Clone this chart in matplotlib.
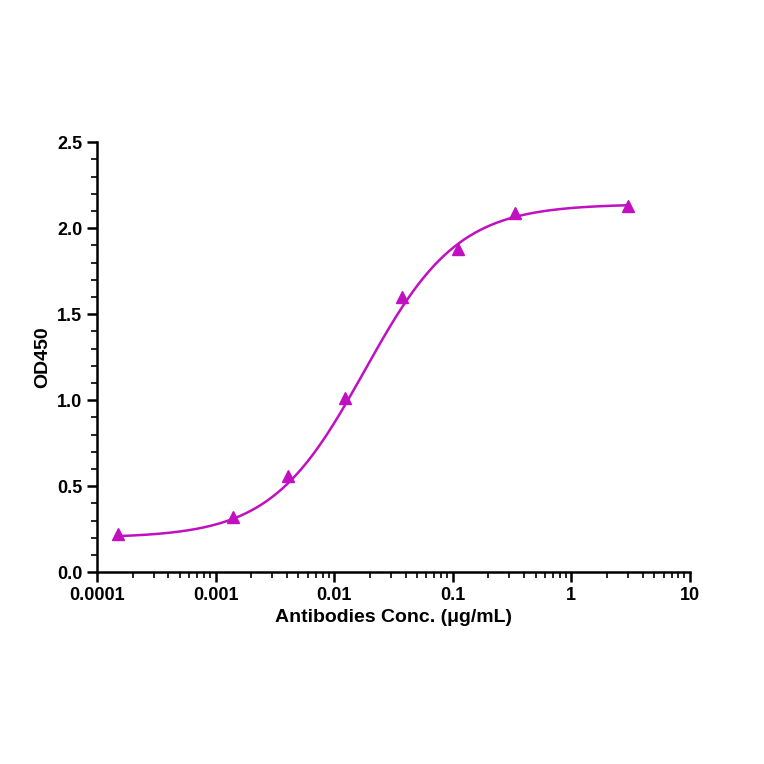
import numpy as np
import matplotlib.pyplot as plt
from matplotlib.ticker import LogLocator, NullFormatter, MultipleLocator

plt.rcParams['font.family'] = ['Liberation Sans', 'DejaVu Sans']
plt.rcParams['font.weight'] = 'bold'

# measured points
conc = [0.00015, 0.0014, 0.0041, 0.0123, 0.037, 0.111, 0.333, 3.0]
od450 = [0.22, 0.32, 0.56, 1.01, 1.60, 1.88, 2.09, 2.13]

# 4PL fit parameters
fit_bottom = 0.20
fit_top = 2.14
fit_ec50 = 0.018
fit_hill = 1.1

color = '#C010C0'

fig = plt.figure(figsize=(7.64, 7.64), dpi=100)
ax = fig.add_axes([0.127, 0.251, 0.776, 0.563])

xs = np.logspace(np.log10(conc[0]), np.log10(conc[-1]), 300)
ys = fit_bottom + (fit_top - fit_bottom) / (1 + (fit_ec50 / xs) ** fit_hill)
ax.plot(xs, ys, color=color, lw=1.8)
ax.plot(conc, od450, '^', color=color, ms=8, clip_on=False)

ax.set_xscale('log')
ax.set_xlim(0.0001, 10)
ax.set_ylim(0, 2.5)
ax.set_xticks([0.0001, 0.001, 0.01, 0.1, 1, 10])
ax.set_xticklabels(['0.0001', '0.001', '0.01', '0.1', '1', '10'])
ax.xaxis.set_minor_locator(LogLocator(base=10, subs=np.arange(2, 10)))
ax.xaxis.set_minor_formatter(NullFormatter())
ax.yaxis.set_major_locator(MultipleLocator(0.5))
ax.yaxis.set_minor_locator(MultipleLocator(0.1))
ax.yaxis.set_major_formatter(plt.FuncFormatter(lambda v, p: f'{v:.1f}'))

for s in ['top', 'right']:
    ax.spines[s].set_visible(False)
for s in ['left', 'bottom']:
    ax.spines[s].set_linewidth(1.8)
ax.tick_params(which='major', width=1.8, length=7, labelsize=13)
ax.tick_params(which='minor', width=1.2, length=4)

ax.set_xlabel('Antibodies Conc. (μg/mL)', fontsize=14, fontweight='bold')
ax.set_ylabel('OD450', fontsize=14, fontweight='bold')

fig.savefig('out.png', dpi=100)
